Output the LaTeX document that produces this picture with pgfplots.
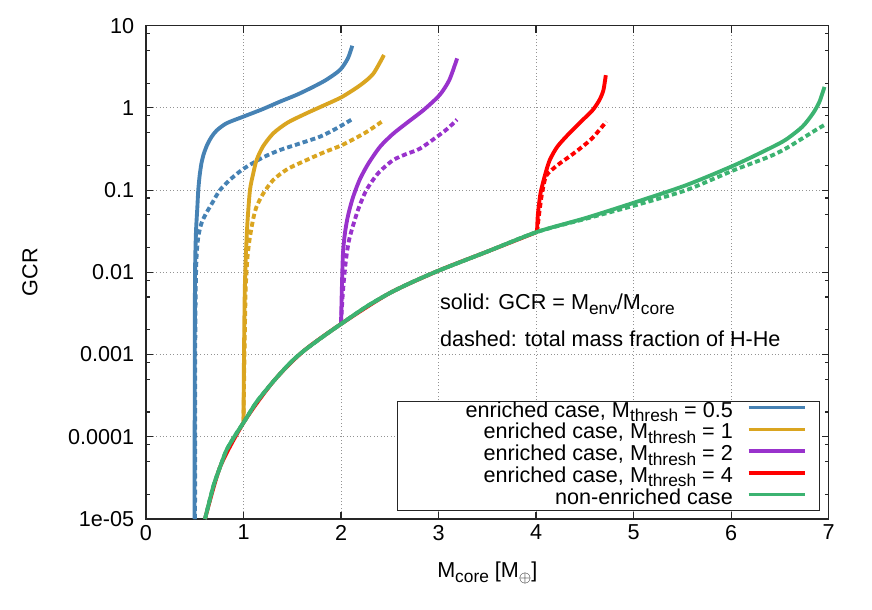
\documentclass[border=0pt]{standalone}
\usepackage{pgfplots}
\pgfplotsset{compat=1.18}
\usepackage{fontspec}
\setmainfont{Liberation Sans}
\definecolor{cblue}{HTML}{4682B4}
\definecolor{cgold}{HTML}{DAA520}
\definecolor{cviolet}{HTML}{9932CC}
\definecolor{cred}{HTML}{FF0000}
\definecolor{cgreen}{HTML}{3CB371}
\newcommand\fs{\fontsize{16.2}{19.5}\selectfont}
\newcommand\sub[1]{\raisebox{-3.4pt}{\fontsize{13}{13}\selectfont #1}}

\pgfplotstableread{
x y
0.605 1e-5
0.69 2.49e-5
0.76 4.3e-5
0.827 6.95e-5
0.929 1.11e-4
1.007 1.53e-4
1.134 2.65e-4
1.305 4.7e-4
1.475 7.85e-4
1.61 1.09e-3
1.817 1.66e-3
2.01 2.4e-3
2.26 3.83e-3
2.5 5.6e-3
2.74 7.7e-3
3.01 1.06e-2
3.49 1.77e-2
4.01 3.1e-2
4.515 4.6e-2
5.03 7.2e-2
5.54 0.115
6.03 0.2
6.39 0.32
6.56 0.41
6.73 0.59
6.84 0.86
6.906 1.19
6.957 1.8
}\greensolid

\pgfplotstableread{
x y
0.605 1e-5
0.69 2.49e-5
0.76 4.3e-5
0.827 6.95e-5
0.929 1.11e-4
1.007 1.53e-4
1.134 2.65e-4
1.305 4.7e-4
1.475 7.85e-4
1.61 1.09e-3
1.817 1.66e-3
2.01 2.4e-3
2.26 3.83e-3
2.5 5.6e-3
2.74 7.7e-3
3.01 1.06e-2
3.49 1.77e-2
4.01 3.1e-2
4.515 4.5e-2
5.03 6.6e-2
5.54 0.1
6.03 0.175
6.39 0.255
6.56 0.32
6.73 0.425
6.87 0.54
6.957 0.62
}\greendashed

\begin{document}
\begin{tikzpicture}[font=\fs]
\useasboundingbox (-109.5pt,-68.25pt) rectangle (544.5pt,389.25pt);
\begin{axis}[
  at={(0,0)}, anchor=south west,
  scale only axis,
  width=512pt, height=370pt,
  xmin=0, xmax=7,
  ymode=log, ymin=1e-5, ymax=10,
  xtick={0,1,2,3,4,5,6,7},
  ytick={1e-5,1e-4,1e-3,1e-2,1e-1,1,10},
  yticklabels={1e-05,0.0001,0.001,0.01,0.1,1,10},
  minor ytick={2e-5,5e-5,8e-5,2e-4,5e-4,8e-4,2e-3,5e-3,8e-3,2e-2,5e-2,8e-2,0.2,0.5,0.8,2,5,8},
  /pgf/number format/assume math mode=true,
  tick label style={font=\fs},
  yticklabel style={xshift=-5.3pt},
  xticklabel style={yshift=-1pt},
  tick align=inside,
  major tick length=5.2pt,
  minor tick length=3pt,
  every tick/.style={black!85, line width=0.9pt},
  axis line style={black!85, line width=1.1pt},
  grid=major,
  major grid style={draw=gray!85, line width=0.6pt, dash pattern=on 0.75pt off 1.8pt},
  xlabel={M\sub{core} [M\sub{$\oplus$}]},
  ylabel={GCR},
  every axis x label/.style={at={(rel axis cs:0.5,0)}, yshift=-44pt, anchor=base},
  every axis y label/.style={at={(rel axis cs:0,0.5)}, xshift=-87pt, rotate=90, anchor=center},
  every axis plot/.append style={line width=2.9pt, line join=round, smooth, tension=0.45},
  legend cell align=right,
  legend plot pos=right,
  legend style={at={(0.987,0.0168)}, anchor=south east, xshift=-10pt,
    draw=none, fill=none, inner sep=0pt, column sep=10.5pt, row sep=0pt,
    nodes={inner sep=0pt, text height=11.7pt, text depth=4.65pt}},
  legend image code/.code={\draw[#1, line width=2.5pt] (0pt,3.6pt) -- (42pt,3.6pt);},
]
% blue, Mthresh = 0.5
\addplot[cblue] coordinates {
  (0.497,1e-5) (0.499,1e-4) (0.5,1e-3) (0.503,0.01) (0.512,0.03) (0.526,0.06)
  (0.536,0.1) (0.55,0.15) (0.568,0.21) (0.59,0.27) (0.625,0.35) (0.67,0.44)
  (0.724,0.53) (0.826,0.65) (1.007,0.79) (1.2,0.97) (1.373,1.19) (1.55,1.45)
  (1.714,1.8) (1.85,2.2) (1.99,2.9) (2.07,4.0) (2.115,5.7)
};
\addlegendentry{enriched case, M\sub{thresh} = 0.5}
\addplot[cblue, dash pattern=on 3.8pt off 2.3pt, forget plot] coordinates {
  (0.503,1e-5) (0.505,1e-3) (0.51,0.006) (0.518,0.015) (0.536,0.027) (0.57,0.04)
  (0.62,0.053) (0.68,0.07) (0.758,0.1) (0.88,0.14) (1.007,0.184) (1.2,0.25)
  (1.373,0.307) (1.58,0.37) (1.783,0.446) (1.95,0.56) (2.107,0.72)
};
% gold, Mthresh = 1
\addplot[cgold] coordinates {
  (1.0,1.53e-4) (1.005,1e-3) (1.013,0.006) (1.025,0.017) (1.04,0.04) (1.066,0.1)
  (1.1,0.16) (1.134,0.232) (1.2,0.34) (1.305,0.49) (1.45,0.66) (1.646,0.86)
  (1.83,1.08) (2.01,1.36) (2.2,1.9) (2.33,2.6) (2.44,4.4)
};
\addlegendentry{enriched case, M\sub{thresh} = 1}
\addplot[cgold, dash pattern=on 3.8pt off 2.3pt, forget plot] coordinates {
  (1.0,1.53e-4) (1.01,1e-3) (1.022,0.006) (1.04,0.015) (1.066,0.027) (1.1,0.045)
  (1.134,0.063) (1.2,0.09) (1.305,0.133) (1.45,0.18) (1.646,0.232) (1.83,0.29)
  (2.01,0.353) (2.25,0.5) (2.44,0.71)
};
% violet, Mthresh = 2
\addplot[cviolet] coordinates {
  (2.0,0.0024) (2.008,0.006) (2.02,0.017) (2.04,0.03) (2.07,0.048) (2.12,0.08)
  (2.19,0.133) (2.28,0.21) (2.4,0.337) (2.53,0.48) (2.67,0.65) (2.85,0.95)
  (3.01,1.43) (3.11,2.18) (3.19,4.0)
};
\addlegendentry{enriched case, M\sub{thresh} = 2}
\addplot[cviolet, dash pattern=on 3.8pt off 2.3pt, forget plot] coordinates {
  (2.0,0.0024) (2.02,0.006) (2.05,0.014) (2.08,0.024) (2.12,0.036) (2.18,0.06)
  (2.26,0.1) (2.38,0.16) (2.53,0.23) (2.67,0.275) (2.81,0.32) (3.01,0.47)
  (3.1,0.57) (3.19,0.72)
};
% red, Mthresh = 4 (follows the non-enriched track below 4)
\addplot[cred, forget plot] coordinates {
  (0.605,1e-5) (0.76,4.3e-5) (1.007,1.53e-4) (1.305,4.7e-4) (1.61,1.09e-3)
  (2.01,2.4e-3) (2.5,5.6e-3) (3.01,1.06e-2) (3.49,1.77e-2) (4.01,0.031)
};
\addplot[cred] coordinates {
  (4.01,0.031) (4.018,0.05) (4.045,0.091) (4.09,0.15) (4.14,0.232) (4.22,0.34)
  (4.34,0.49) (4.46,0.68) (4.58,0.94) (4.65,1.25) (4.69,1.64) (4.715,2.5)
};
\addlegendentry{enriched case, M\sub{thresh} = 4}
\addplot[cred, dash pattern=on 3.8pt off 2.3pt, forget plot] coordinates {
  (4.01,0.031) (4.03,0.05) (4.06,0.09) (4.1,0.146) (4.17,0.18) (4.24,0.21)
  (4.35,0.26) (4.45,0.32) (4.55,0.4) (4.62,0.49) (4.72,0.68)
};
% green, non-enriched
\addplot[cgreen] table[x=x,y=y] {\greensolid};
\addlegendentry{non-enriched case}
\addplot[cgreen, dash pattern=on 3.8pt off 2.3pt, forget plot] table[x=x,y=y] {\greendashed};

\draw[black!85, line width=0.9pt, fill=white]
  (rel axis cs:0.368,0.0168) rectangle (rel axis cs:0.987,0.238);

\node[anchor=base west, inner sep=0pt] at (axis cs:3.012,0.00349)
  {solid: GCR = M\sub{env}/M\sub{core}};
\node[anchor=base west, inner sep=0pt] at (axis cs:3.012,0.00125)
  {dashed: total mass fraction of H-He};
\end{axis}
\end{tikzpicture}
\end{document}
